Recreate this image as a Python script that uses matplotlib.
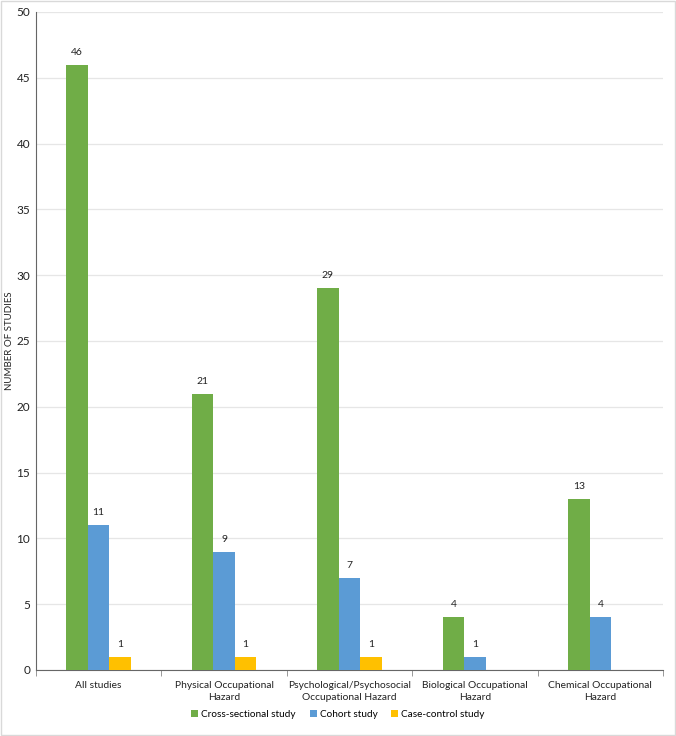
import matplotlib.pyplot as plt
import numpy as np

categories = ["All studies", "Physical Occupational\nHazard",
              "Psychological/Psychosocial\nOccupational Hazard",
              "Biological Occupational\nHazard", "Chemical Occupational\nHazard"]
cross_sectional = [46, 21, 29, 4, 13]
cohort = [11, 9, 7, 1, 4]
case_control = [1, 1, 1, 0, 0]

series = [("Cross-sectional study", cross_sectional, "#70AD47"),
          ("Cohort study", cohort, "#5B9BD5"),
          ("Case-control study", case_control, "#FFC000")]

plt.rcParams['font.family'] = ['Lato', 'DejaVu Sans']

fig = plt.figure(figsize=(6.76, 7.36), dpi=100)
ax = fig.add_axes([0.053, 0.0897, 0.928, 0.894])

x = np.arange(len(categories))
w = 0.172
for i, (name, vals, color) in enumerate(series):
    pos = x + (i - 1) * w
    ax.bar(pos, vals, w, color=color, label=name, zorder=3)
    for p, v in zip(pos, vals):
        if v > 0:
            ax.text(p, v + 0.6, str(v), ha="center", va="bottom", fontsize=7.5, color="#222222")

ax.set_xlim(-0.5, len(categories) - 0.5)
ax.set_ylim(0, 50)
ax.set_yticks(range(0, 51, 5))
ax.set_xticks(x)
ax.set_xticklabels(categories, fontsize=7.4, color="#222222", linespacing=1.45)
ax.tick_params(axis="x", length=0, pad=8)
ax.set_xticks(np.arange(-0.5, len(categories), 1), minor=True)
ax.tick_params(axis="x", which="minor", length=4, color="#888888")
ax.tick_params(axis="y", length=0, labelsize=8.5, colors="#222222", pad=4)
ax.grid(axis="y", color="#E6E6E6", linewidth=0.9, zorder=0)
for s in ["top", "right"]:
    ax.spines[s].set_visible(False)
ax.spines["left"].set_color("#666666")
ax.spines["bottom"].set_color("#666666")
ax.set_ylabel("NUMBER OF STUDIES", fontsize=7, color="#222222")
ax.yaxis.set_label_coords(-0.035, 0.5)

fig.legend(loc="center", bbox_to_anchor=(0.5, 0.029), ncol=3, frameon=False,
           fontsize=7.2, handlelength=0.7, handleheight=0.7, handletextpad=0.3,
           columnspacing=1.4)

fig.patches.append(plt.Rectangle((0.001, 0.001), 0.998, 0.998, transform=fig.transFigure,
                                 fill=False, edgecolor="#D9D9D9", linewidth=1))

plt.savefig("out.png")
